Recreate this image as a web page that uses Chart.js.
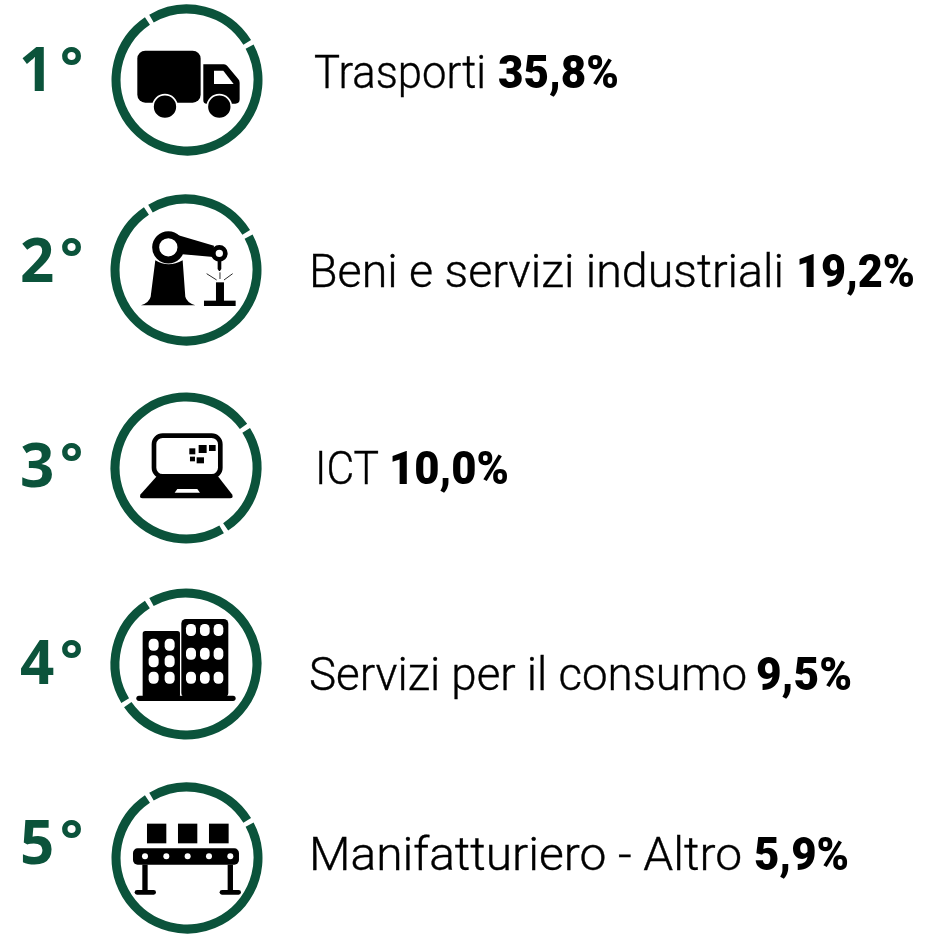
<!DOCTYPE html>
<html lang="it">
<head>
<meta charset="utf-8">
<title>Settori</title>
<script src="https://cdn.jsdelivr.net/npm/chart.js@4"></script>
<style>
  html, body { margin: 0; background: #fff; }
  #page { position: relative; width: 930px; height: 936px; overflow: hidden; }
  #page canvas { position: absolute; }
  #overlay { position: absolute; left: 0; top: 0; }
  .label { font-family: Roboto, sans-serif; font-weight: 300; font-size: 46px; fill: #000; stroke: #000; stroke-width: 0.4px; }
  .value { font-family: Roboto, sans-serif; font-weight: 900; font-size: 46px; fill: #000; }
  .rank { font-family: "Open Sans", sans-serif; font-weight: 700; font-size: 60px; fill: #0b533b; }
  .deg { font-family: "Open Sans", sans-serif; font-weight: 700; font-size: 54px; fill: #0b533b; }
</style>
</head>
<body>
<div id="page">
<svg id="overlay" width="930" height="936" xmlns="http://www.w3.org/2000/svg">
  <!-- icons, traced in 3x crop coordinates -->
  <g id="truck" transform="scale(0.3333)">
    <rect x="412" y="152" width="190" height="156" rx="24"/>
    <path d="M610 193H672Q678 193 682 198L714 236Q719 241 719 248V298Q719 311 706 311H620Q610 311 610 301Z"/>
    <path d="M642 212H670L701 252H642Z" fill="#fff"/>
    <circle cx="495" cy="320" r="36" stroke="#fff" stroke-width="5"/>
    <circle cx="658" cy="320" r="36" stroke="#fff" stroke-width="5"/>
  </g>
  <g id="robot" transform="translate(0,185) scale(0.3333)">
    <path d="M466 226Q505 250 548 226L556 335Q560 352 586 361H423Q448 352 452 335Z"/>
    <path d="M525 148L642 182L640 216L530 206Z"/>
    <circle cx="505" cy="187" r="38" fill="#fff" stroke="#000" stroke-width="21"/>
    <circle cx="658" cy="205" r="18" fill="#fff" stroke="#000" stroke-width="14"/>
    <path d="M653 228H664V252L660 258H657L653 252Z"/>
    <rect x="648" y="292" width="24" height="60"/>
    <rect x="612" y="347" width="95" height="16"/>
    <path d="M620 266L650 285M698 266L672 285M660 262V282" stroke="#000" stroke-width="2.5" fill="none"/>
  </g>
  <g id="laptop" transform="translate(0,385) scale(0.3333)">
    <path d="M469 275H655L696 328Q702 340 690 340H428Q416 340 422 328Z"/>
    <rect x="462" y="152" width="199" height="122" rx="26" fill="#fff" stroke="#000" stroke-width="14"/>
    <path d="M532 312H592L600 323H524Z" fill="#fff"/>
    <rect x="568" y="190" width="18" height="18"/>
    <rect x="596" y="180" width="24" height="24"/>
    <rect x="627" y="180" width="20" height="18"/>
    <rect x="570" y="215" width="15" height="14"/>
    <rect x="590" y="217" width="22" height="18"/>
  </g>
  <g id="buildings" transform="translate(0,580) scale(0.3333)">
    <rect x="428" y="153" width="112" height="200" rx="8"/>
    <rect x="544" y="117" width="141" height="236" rx="14"/>
    <rect x="409" y="347" width="298" height="16" rx="8"/>
    <g fill="#fff">
      <rect x="446" y="176" width="30" height="36" rx="13"/><rect x="494" y="176" width="30" height="36" rx="13"/>
      <rect x="446" y="226" width="30" height="36" rx="13"/><rect x="494" y="226" width="30" height="36" rx="13"/>
      <rect x="446" y="275" width="30" height="36" rx="13"/><rect x="494" y="275" width="30" height="36" rx="13"/>
      <rect x="558" y="132" width="30" height="36" rx="13"/><rect x="600" y="132" width="29" height="36" rx="13"/><rect x="641" y="132" width="29" height="36" rx="13"/>
      <rect x="558" y="203" width="30" height="36" rx="13"/><rect x="600" y="203" width="29" height="36" rx="13"/><rect x="641" y="203" width="29" height="36" rx="13"/>
      <rect x="558" y="275" width="30" height="36" rx="13"/><rect x="600" y="275" width="29" height="36" rx="13"/><rect x="641" y="275" width="29" height="36" rx="13"/>
    </g>
  </g>
  <g id="conveyor" transform="translate(0,770) scale(0.3333)">
    <rect x="441" y="161" width="58" height="59"/>
    <rect x="534" y="161" width="58" height="59"/>
    <rect x="627" y="161" width="59" height="59"/>
    <rect x="399" y="235" width="318" height="49" rx="14"/>
    <rect x="427" y="284" width="16" height="80"/>
    <rect x="683" y="284" width="16" height="80"/>
    <rect x="404" y="360" width="64" height="14" rx="7"/>
    <rect x="659" y="360" width="64" height="14" rx="7"/>
    <g fill="#fff">
      <circle cx="435" cy="259" r="9"/><circle cx="499" cy="259" r="9"/><circle cx="563" cy="259" r="9"/><circle cx="627" cy="259" r="9"/><circle cx="691" cy="259" r="9"/>
    </g>
  </g>
</svg>
</div>

<script>
const categories = ['Trasporti', 'Beni e servizi industriali', 'ICT', 'Servizi per il consumo', 'Manifatturiero - Altro'];
const shares = [35.8, 19.2, 10.0, 9.5, 5.9];
const ranks = ['1', '2', '3', '4', '5'];

// each ring is split into a quarter and the rest, only the rotation changes
const ringParts = [25, 75];
const ringRotations = [-31, -31, 57, -122, -31];

// layout
const ringCenters = [[187, 79.5], [186, 270], [185.5, 467.5], [186, 664], [186.5, 857.5]];
const labelX = [314, 309, 315, 309, 309];
const labelW = [172, 475, 64, 438, 433];
const valueX = [498, 796, 389, 756, 754];
const valueW = [121, 119, 120, 96, 95];
const textY = [88, 287, 484, 690, 870];
const rankX = [19, 20, 20, 20, 20];
const rankY = [91, 282, 487, 684, 864];

const green = '#0b533b';
const ringBox = 170;
const page = document.getElementById('page');
const overlay = document.getElementById('overlay');

function addText(cls, x, y, width, str) {
  const t = document.createElementNS('http://www.w3.org/2000/svg', 'text');
  t.setAttribute('class', cls);
  t.setAttribute('x', x);
  t.setAttribute('y', y);
  if (width) {
    t.setAttribute('textLength', width);
    t.setAttribute('lengthAdjust', 'spacingAndGlyphs');
  }
  t.textContent = str;
  overlay.appendChild(t);
}

categories.forEach((cat, i) => {
  const canvas = document.createElement('canvas');
  canvas.width = ringBox;
  canvas.height = ringBox;
  canvas.style.left = (ringCenters[i][0] - ringBox / 2) + 'px';
  canvas.style.top = (ringCenters[i][1] - ringBox / 2) + 'px';
  page.insertBefore(canvas, overlay);

  new Chart(canvas, {
    type: 'doughnut',
    data: {
      labels: [cat, ''],
      datasets: [{
        data: ringParts,
        backgroundColor: green,
        borderWidth: 0,
        spacing: 3
      }]
    },
    options: {
      responsive: false,
      animation: false,
      rotation: ringRotations[i],
      radius: 74,
      cutout: '87.8%',
      plugins: { legend: { display: false }, tooltip: { enabled: false } }
    }
  });

  addText('label', labelX[i], textY[i], labelW[i], cat);
  addText('value', valueX[i], textY[i], valueW[i], shares[i].toFixed(1).replace('.', ',') + '%');
  addText('rank', rankX[i], rankY[i], 0, ranks[i]);
  addText('deg', 60, rankY[i] - 5, 0, '°');
});
</script>
</body>
</html>
